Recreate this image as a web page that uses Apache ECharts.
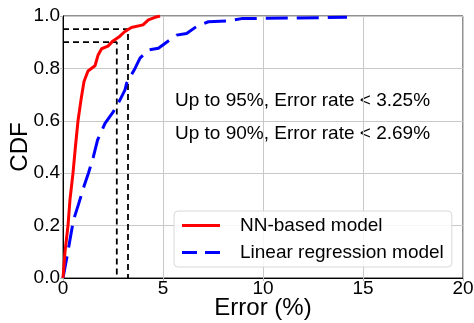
<!DOCTYPE html>
<html>
<head>
<meta charset="utf-8">
<script src="https://cdn.jsdelivr.net/npm/echarts@6/dist/echarts.min.js"></script>
<style>
  html, body { margin: 0; padding: 0; background: #fff; }
  #chart { width: 474px; height: 323px; }
</style>
</head>
<body>
<div id="chart"></div>
<script>
// NN-based model CDF
var nnError = [0, 0.1, 0.25, 0.35, 0.5, 0.62, 0.75, 0.9, 1.05, 1.25, 1.6, 1.75, 1.93, 2.25, 2.5, 2.83, 3.08, 3.42, 4.0, 4.27, 4.6, 4.85];
var nnCdf   = [0, 0.1, 0.2, 0.3, 0.4, 0.5, 0.6, 0.68, 0.75, 0.79, 0.81, 0.85, 0.875, 0.885, 0.905, 0.922, 0.94, 0.956, 0.966, 0.985, 0.995, 1.0];
// linear regression model CDF
var lrError = [0, 0.23, 0.52, 0.77, 1.07, 1.27, 1.52, 1.73, 2.1, 2.52, 2.85, 3.1, 3.18, 3.6, 3.85, 4.27, 4.77, 5.18, 5.68, 6.18, 6.68, 7.27, 8.35, 8.93, 14.2];
var lrCdf   = [0, 0.094, 0.22, 0.28, 0.355, 0.40, 0.463, 0.527, 0.59, 0.635, 0.68, 0.718, 0.743, 0.80, 0.839, 0.87, 0.877, 0.90, 0.927, 0.933, 0.96, 0.978, 0.982, 0.99, 0.995];
// guide lines (error, cdf)
var guide95 = [[0, 0.95], [3.25, 0.95], [3.25, 0]];
var guide90 = [[0, 0.90], [2.69, 0.90], [2.69, 0]];
var xTicks = [0, 5, 10, 15, 20];
var yTicks = [0, 0.2, 0.4, 0.6, 0.8, 1.0];
var notes = ['Up to 95%, Error rate < 3.25%', 'Up to 90%, Error rate < 2.69%'];

function zip(a, b) {
  return a.map(function (v, i) { return [v, b[i]]; });
}

var chart = echarts.init(document.getElementById('chart'));
var font = 'Liberation Sans, Arial, sans-serif';
var option = {
  animation: false,
  grid: {
    left: 63, right: 11, top: 16, bottom: 45,
    outerBoundsMode: 'none',
    show: true, borderColor: '#222', borderWidth: 1
  },
  xAxis: {
    type: 'value',
    min: xTicks[0], max: xTicks[xTicks.length - 1], interval: 5,
    name: 'Error (%)', nameLocation: 'middle', nameGap: 18, nameMoveOverlap: false,
    nameTextStyle: { fontSize: 24, color: '#000', fontFamily: font },
    axisLine: { show: true, onZero: false, lineStyle: { color: '#000', width: 1 } },
    axisTick: { show: true, length: 3, lineStyle: { color: '#bbb' } },
    axisLabel: { fontSize: 19, color: '#000', fontFamily: font, margin: 1 },
    splitLine: { show: true, lineStyle: { color: '#c8c8c8', width: 1 } }
  },
  yAxis: {
    type: 'value',
    min: yTicks[0], max: yTicks[yTicks.length - 1], interval: 0.2,
    name: 'CDF', nameLocation: 'middle', nameGap: 31, nameMoveOverlap: false,
    nameTextStyle: { fontSize: 24, color: '#000', fontFamily: font },
    axisLine: { show: true, onZero: false, lineStyle: { color: '#000', width: 1 } },
    axisTick: { show: true, length: 3, lineStyle: { color: '#bbb' } },
    axisLabel: {
      fontSize: 19, color: '#000', fontFamily: font, margin: 3,
      formatter: function (v) { return v.toFixed(1); }
    },
    splitLine: { show: true, lineStyle: { color: '#c8c8c8', width: 1 } }
  },
  legend: {
    orient: 'vertical',
    left: 174, top: 211,
    itemWidth: 38, itemHeight: 3, itemGap: 8,
    symbolKeepAspect: false,
    padding: [5, 8, 5, 8],
    borderColor: '#d8d8d8', borderWidth: 1, borderRadius: 4,
    backgroundColor: 'rgba(255,255,255,0.85)',
    textStyle: { fontSize: 19, color: '#000', fontFamily: font, padding: [0, 0, 0, 15] },
    data: [
      { name: 'NN-based model', icon: 'path://M0,0H38V3H0Z' },
      { name: 'Linear regression model', icon: 'path://M0,0H15V3H0Z M23,0H38V3H23Z' }
    ]
  },
  graphic: notes.map(function (t, i) {
    return {
      type: 'text', left: 175, top: 91 + i * 33,
      style: { text: t, fontSize: 19, fill: '#000', fontFamily: font }
    };
  }),
  series: [
    {
      name: 'guide95', type: 'line', data: guide95, symbol: 'none', z: 1,
      lineStyle: { color: '#000', width: 1.8, type: [6, 4] }
    },
    {
      name: 'guide90', type: 'line', data: guide90, symbol: 'none', z: 1,
      lineStyle: { color: '#000', width: 1.8, type: [6, 4] }
    },
    {
      name: 'Linear regression model', type: 'line', data: zip(lrError, lrCdf),
      symbol: 'none', z: 2,
      lineStyle: { color: '#0000ff', width: 3, type: [22, 9] },
      itemStyle: { color: '#0000ff' }
    },
    {
      name: 'NN-based model', type: 'line', data: zip(nnError, nnCdf),
      symbol: 'none', z: 3,
      lineStyle: { color: '#ff0000', width: 3 },
      itemStyle: { color: '#ff0000' }
    }
  ]
};
chart.setOption(option);
</script>
</body>
</html>
